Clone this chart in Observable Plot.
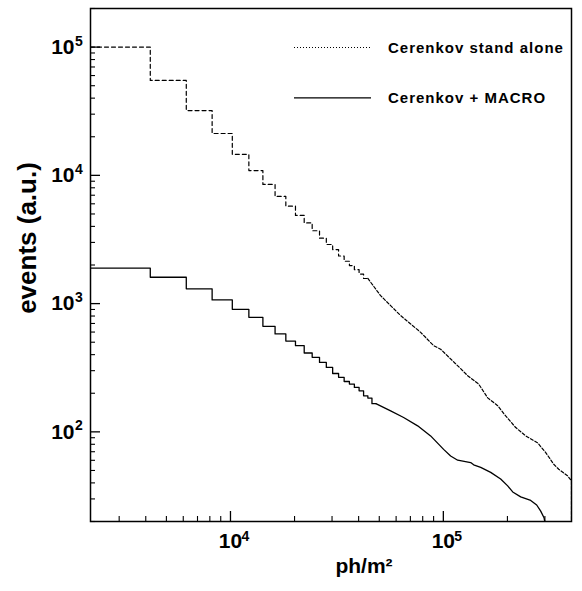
<!DOCTYPE html>
<html><head><meta charset="utf-8">
<script src="https://cdn.jsdelivr.net/npm/d3@7"></script>
<script src="https://cdn.jsdelivr.net/npm/@observablehq/plot@0.6"></script>
<style>
body{margin:0;background:#fff}
#chart{position:relative;width:582px;height:591px}
svg{font-family:"Liberation Sans",Arial,Helvetica,sans-serif}
</style>
</head><body><div id="chart"></div>
<script>
// ---- data ----
// coarse histogram bins (ph/m², left edges; final value is the right edge of the last bin)
const standAloneEdges = [2200, 4200, 6200, 8200, 10200, 12200, 14200, 16200, 18200, 20200, 22200,
  24200, 26200, 28200, 30200, 32200, 34200, 36200, 38200, 40200, 42200, 44200];
const standAloneBins = [100000, 55000, 32000, 21200, 14600, 10900, 8500, 6850, 5750, 4870, 4260,
  3700, 3240, 2890, 2640, 2350, 2140, 1980, 1840, 1700, 1570];
// fine-binned tail (points along the staircase)
const standAloneTailX = [44200, 50720, 56530, 63010, 70220, 78230, 90030, 97120, 120600, 130100, 146500,
  161600, 180000, 196300, 218800, 243800, 277500, 302700, 330100, 348400, 384100, 400000, 400000];
const standAloneTailY = [1570, 1155, 965, 806, 694, 597, 470, 441, 311, 274, 236,
  184, 160, 133, 108, 93, 82, 68.9, 55.9, 51.1, 45.3, 41.4, 20];

const macroEdges = [2200, 4200, 6200, 8200, 10200, 12200, 14200, 16200, 18200, 20200, 22200, 24200,
  26200, 28200, 30200, 32200, 34200, 36200, 38200, 40200, 42200, 44200, 46200, 48200];
const macroBins = [1890, 1605, 1303, 1069, 903, 782, 665, 580, 510, 470, 412, 381,
  348, 318, 285, 266, 247, 236, 222, 209, 191, 183.5, 166];
const macroTailX = [48200, 56530, 65080, 75740, 87150, 100300, 108200, 116800, 134400, 138800, 149800,
  166900, 185900, 200600, 211800, 230900, 257300, 274500, 286700, 297200, 299500];
const macroTailY = [166, 145.9, 129.4, 111.4, 93.0, 73.0, 64.9, 60.1, 57.6, 55.3, 52.8,
  48.3, 42.9, 37.9, 34.0, 31.1, 29.2, 26.9, 24.1, 21.4, 20];

// axis ticks
const majorX = [10000, 100000];
const minorX = [3000, 4000, 5000, 6000, 7000, 8000, 9000, 20000, 30000, 40000, 50000, 60000,
  70000, 80000, 90000, 200000, 300000];
const majorY = [100, 1000, 10000, 100000];
const minorY = [20, 30, 40, 50, 60, 70, 80, 90, 200, 300, 400, 500, 600, 700, 800, 900,
  2000, 3000, 4000, 5000, 6000, 7000, 8000, 9000, 20000, 30000, 40000, 50000, 60000,
  70000, 80000, 90000, 200000];

const seriesNames = ["Cerenkov stand alone", "Cerenkov + MACRO"];
const xTitle = "ph/m²";
const yTitle = "events (a.u.)";

// ---- build tables ----
function stepTable(edges, vals) {
  return edges.map((x, i) => ({x, y: i < vals.length ? vals[i] : vals[vals.length - 1]}));
}
const saSteps = stepTable(standAloneEdges, standAloneBins);
const saTail = standAloneTailX.map((x, i) => ({x, y: standAloneTailY[i]}));
const mcSteps = stepTable(macroEdges, macroBins);
const mcTail = macroTailX.map((x, i) => ({x, y: macroTailY[i]}));

const W = 582, H = 591, mL = 90, mR = 11, mT = 8, mB = 70;
const pW = W - mL - mR, pH = H - mT - mB;
const bold = {fontWeight: "bold", fill: "#000"};

const chart = Plot.plot({
  width: W, height: H,
  marginLeft: mL, marginRight: mR, marginTop: mT, marginBottom: mB,
  style: {fontFamily: '"Liberation Sans", Arial, Helvetica, sans-serif', background: "#fff"},
  x: {type: "log", domain: [2200, 400000], axis: null},
  y: {type: "log", domain: [20, 200000], axis: null},
  marks: [
    // inward ticks on the left and bottom edges
    Plot.ruleY(minorY, {y: d => d, insetRight: pW - 5, stroke: "#000", strokeWidth: 1.1}),
    Plot.ruleY(majorY, {y: d => d, insetRight: pW - 10, stroke: "#000", strokeWidth: 1.3}),
    Plot.ruleX(minorX, {x: d => d, insetTop: pH - 5, stroke: "#000", strokeWidth: 1.1}),
    Plot.ruleX(majorX, {x: d => d, insetTop: pH - 10, stroke: "#000", strokeWidth: 1.3}),
    Plot.line(saSteps, {x: "x", y: "y", curve: "step-after", stroke: "#000", strokeWidth: 1.2, strokeDasharray: "4,3", clip: true}),
    Plot.line(saTail, {x: "x", y: "y", stroke: "#000", strokeWidth: 1.2, strokeDasharray: "3,2", clip: true}),
    Plot.line(mcSteps, {x: "x", y: "y", curve: "step-after", stroke: "#000", strokeWidth: 1.3, clip: true}),
    Plot.line(mcTail, {x: "x", y: "y", stroke: "#000", strokeWidth: 1.3, clip: true}),
    Plot.frame({stroke: "#000", strokeWidth: 1.5}),
    // y tick labels 10^n
    Plot.text(majorY, {y: d => d, frameAnchor: "left", text: () => "10", textAnchor: "end", dx: -16, fontSize: 21, ...bold}),
    Plot.text(majorY, {y: d => d, frameAnchor: "left", text: d => String(Math.round(Math.log10(d))), textAnchor: "start", dx: -15.5, dy: -6, fontSize: 14, ...bold}),
    // x tick labels 10^n
    Plot.text(majorX, {x: d => d, frameAnchor: "bottom", text: () => "10", textAnchor: "middle", dy: 26, fontSize: 21, ...bold}),
    Plot.text(majorX, {x: d => d, frameAnchor: "bottom", text: d => String(Math.round(Math.log10(d))), textAnchor: "start", dx: 11, dy: 19, fontSize: 14, ...bold}),
    // axis titles
    Plot.text([yTitle], {frameAnchor: "left", text: d => d, textAnchor: "middle", rotate: -90, dx: -63, dy: -27, fontSize: 26, ...bold}),
    Plot.text([xTitle], {frameAnchor: "bottom", text: d => d, textAnchor: "middle", dx: 33, dy: 51, fontSize: 21, ...bold})
  ]
});

const svg = d3.select(chart);

// legend inside the frame (top right)
const lg = svg.append("g");
const legendStyles = [{dash: "1,2", w: 1}, {dash: null, w: 1.3}];
seriesNames.forEach((name, i) => {
  const yc = 47.5 + i * 50.3;
  lg.append("line").attr("x1", 294).attr("x2", 371).attr("y1", yc).attr("y2", yc)
    .attr("stroke", "#000").attr("stroke-width", legendStyles[i].w)
    .attr("stroke-dasharray", legendStyles[i].dash);
  lg.append("text").attr("x", 388).attr("y", yc + 5.6).text(name)
    .attr("text-anchor", "start")
    .attr("font-size", 15).attr("font-weight", "bold").attr("letter-spacing", 1)
    .attr("fill", "#000");
});

document.getElementById("chart").appendChild(chart);
</script>
</body></html>
